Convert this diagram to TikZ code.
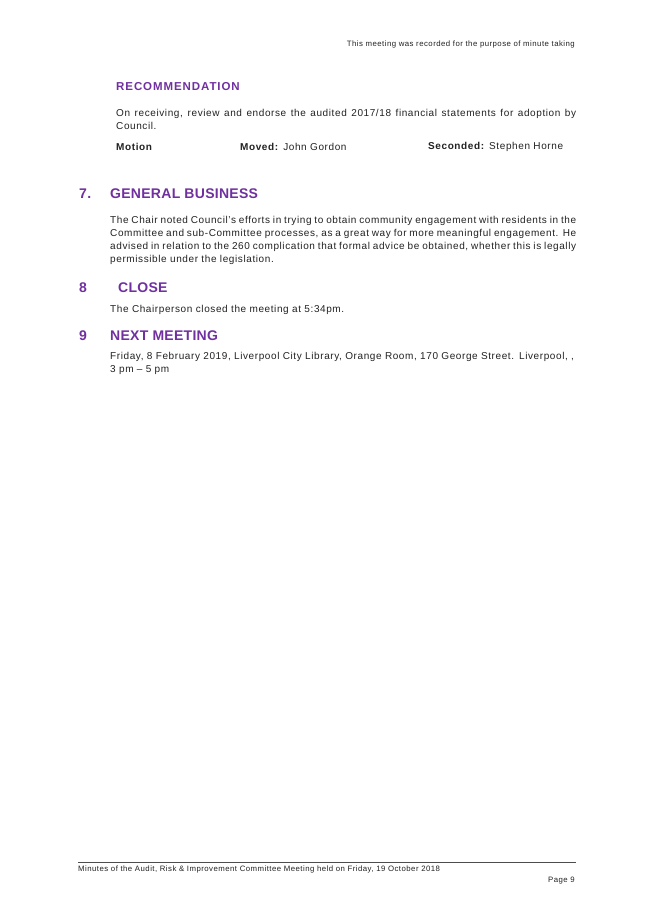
\documentclass[tikz,border=0pt]{standalone}
\usepackage{fontspec}
\setmainfont{Liberation Sans}
\definecolor{hpurple}{HTML}{7030A0}
\definecolor{txt}{HTML}{222222}
\newcommand{\bodyfont}{\fontsize{10}{13}\selectfont\addfontfeatures{LetterSpace=6}}
\begin{document}
\begin{tikzpicture}[x=1pt,y=-1pt,
  body/.style={inner sep=0pt,anchor=north west,align=justify,text=txt,font=\bodyfont},
  line/.style={inner sep=0pt,anchor=west,text=txt,font=\bodyfont},
  head/.style={inner sep=0pt,anchor=west,text=hpurple,font=\fontsize{14}{16}\selectfont\bfseries\addfontfeatures{LetterSpace=2}},
  small/.style={inner sep=0pt,text=txt,font=\fontsize{7.8}{9}\selectfont\addfontfeatures{LetterSpace=6}}]
\useasboundingbox[fill=white] (0,0) rectangle (653,923);
\node[small,anchor=east] (hdr) at (575,44) {This meeting was recorded for the purpose of minute taking};
\node[inner sep=0pt,anchor=west,text=hpurple,font=\fontsize{11.5}{13}\selectfont\bfseries\addfontfeatures{LetterSpace=8}] (rec) at (116,87) {RECOMMENDATION};
\node[body,text width=460pt] (p1) at (116,109) {On receiving, review and endorse the audited 2017/18 financial statements for adoption by Council.};
\node[line] (mo) at (116,147) {\textbf{Motion}};
\node[line] (mv) at (240,147) {\textbf{Moved:} John Gordon};
\node[line] (sc) at (428,147) {\textbf{Seconded:} Stephen Horne};
\node[head] (n7) at (79,194) {7.};
\node[head] (h7) at (110,194) {GENERAL BUSINESS};
\node[body,text width=466pt] (p2) at (110,216) {The Chair noted Council's efforts in trying to obtain community engagement with residents in the Committee and sub-Committee processes, as a great way for more meaningful engagement. He advised in relation to the 260 complication that formal advice be obtained, whether this is legally permissible under the legislation.};
\node[head] (n8) at (79,288) {8};
\node[head] (h8) at (118,288) {CLOSE};
\node[line] (p3) at (110,310) {The Chairperson closed the meeting at 5:34pm.};
\node[head] (n9) at (79,336) {9};
\node[head] (h9) at (110,336) {NEXT MEETING};
\node[body,text width=466pt,align=left] (p4) at (110,352) {Friday, 8 February 2019, Liverpool City Library, Orange Room, 170 George Street. Liverpool, ,\\3 pm -- 5 pm};
\coordinate (fl) at (78,862);
\coordinate (fr) at (576,862);
\draw[line width=0.5pt,black!70] (fl) -- (fr);
\node[small,anchor=west] (ft) at (78,869) {Minutes of the Audit, Risk \& Improvement Committee Meeting held on Friday, 19 October 2018};
\node[small,anchor=east] (pg) at (575,881) {Page 9};
\end{tikzpicture}
\end{document}
